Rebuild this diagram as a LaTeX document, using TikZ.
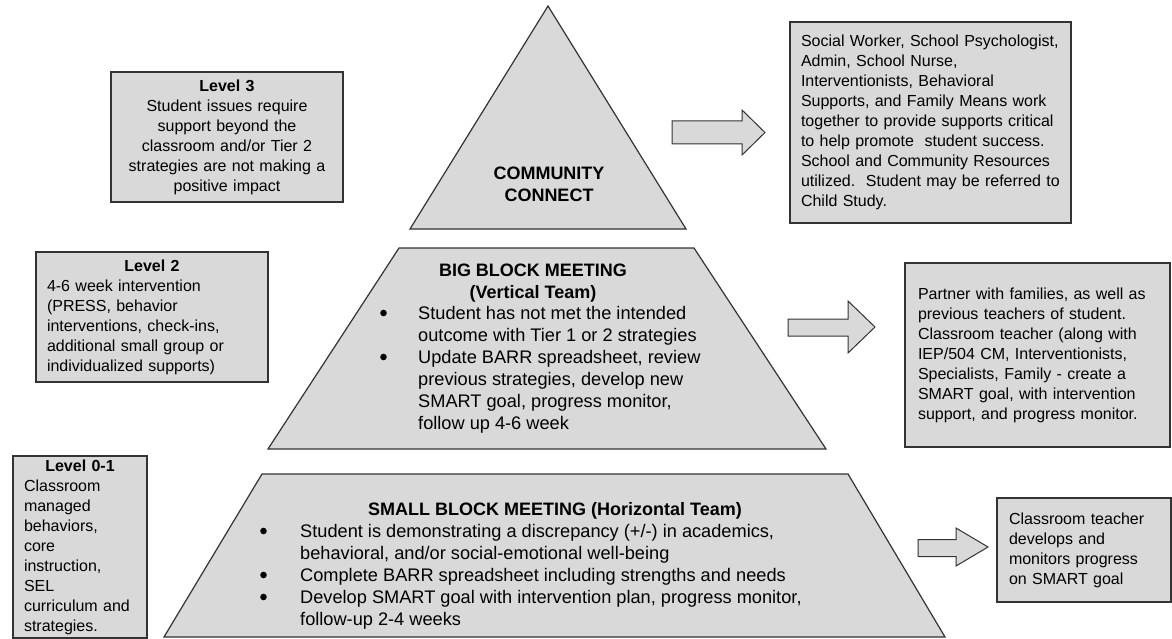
\documentclass[tikz,border=0pt]{standalone}
\usepackage{fontspec}
\setmainfont{Liberation Sans}
\definecolor{fillgray}{HTML}{D9D9D9}
\definecolor{edgegray}{HTML}{333333}
\begin{document}
\begin{tikzpicture}[x=1pt,y=-1pt,
  shapeline/.style={draw=edgegray, fill=fillgray, line width=1.2pt, line join=miter},
  infobox/.style={shapeline, rectangle, inner sep=0pt, inner xsep=11pt, font=\fontsize{16}{20}\selectfont},
  pyrtext/.style={inner sep=0pt, font=\fontsize{18.2}{22}\selectfont},
  pyrhead/.style={inner sep=0pt, align=center, font=\fontsize{18}{22}\selectfont\bfseries},
  bulletdot/.style={fill=black}
]
\useasboundingbox (0,0) rectangle (1172,639);

% pyramid tiers
\draw[shapeline] (548,6) -- (686,229) -- (410,229) -- cycle;
\draw[shapeline] (399,248) -- (694,248) -- (826,449) -- (268,449) -- cycle;
\draw[shapeline] (262,474) -- (848,474) -- (945,637) -- (164,637) -- cycle;

% tier texts
\node[pyrhead] (cc) at (549,184) {COMMUNITY\\CONNECT};
\node[pyrhead] (bbh) at (533,283) {BIG BLOCK MEETING\\(Vertical Team)};
\node[pyrtext, align=left, anchor=north west] (bbl) at (379,306) {%
\hspace*{39pt}Student has not met the intended\\
\hspace*{39pt}outcome with Tier 1 or 2 strategies\\
\hspace*{39pt}Update BARR spreadsheet, review\\
\hspace*{39pt}previous strategies, develop new\\
\hspace*{39pt}SMART goal, progress monitor,\\
\hspace*{39pt}follow up 4-6 week};
\fill[bulletdot] (bbl.north west) ++(4.5,7) circle (3.3);
\fill[bulletdot] (bbl.north west) ++(4.5,51) circle (3.3);

\node[pyrhead] (sbh) at (555,511) {SMALL BLOCK MEETING (Horizontal Team)};
\node[pyrtext, align=left, anchor=north west] (sbl) at (259,524) {%
\hspace*{41pt}Student is demonstrating a discrepancy (+/-) in academics,\\
\hspace*{41pt}behavioral, and/or social-emotional well-being\\
\hspace*{41pt}Complete BARR spreadsheet including strengths and needs\\
\hspace*{41pt}Develop SMART goal with intervention plan, progress monitor,\\
\hspace*{41pt}follow-up 2-4 weeks};
\fill[bulletdot] (sbl.north west) ++(4.5,7) circle (3.3);
\fill[bulletdot] (sbl.north west) ++(4.5,51) circle (3.3);
\fill[bulletdot] (sbl.north west) ++(4.5,73) circle (3.3);

% level boxes (left)
\node[infobox, text width=210pt, align=center, minimum height=130pt] (l3) at (227,137)
 {\textbf{Level 3}\\Student issues require\\support beyond the\\classroom and/or Tier 2\\strategies are not making a\\positive impact};
\node[infobox, text width=210pt, minimum height=130pt] (l2) at (152,317)
 {{\centering\textbf{Level 2}\par}\raggedright 4-6 week intervention\\(PRESS, behavior\\interventions, check-ins,\\additional small group or\\individualized supports)};
\node[infobox, text width=112pt, minimum height=182pt] (l01) at (80,547)
 {{\centering\textbf{Level 0-1}\par}\raggedright Classroom\\managed\\behaviors,\\core\\instruction,\\SEL\\curriculum and\\strategies.};

% result boxes (right)
\node[infobox, text width=259pt, align=left, minimum height=201pt] (r3) at (930.5,122.5)
 {Social Worker, School Psychologist,\\Admin, School Nurse,\\Interventionists, Behavioral\\Supports, and Family Means work\\together to provide supports critical\\to help promote\ \ student success.\\School and Community Resources\\utilized.\ \ Student may be referred to\\Child Study.};
\node[infobox, text width=239pt, inner xsep=13pt, align=left, minimum height=184pt] (r2) at (1037.5,355)
 {Partner with families, as well as\\previous teachers of student.\\Classroom teacher (along with\\IEP/504 CM, Interventionists,\\Specialists, Family - create a\\SMART goal, with intervention\\support, and progress monitor.};
\node[infobox, text width=150pt, inner xsep=12pt, align=left, minimum height=104pt] (r1) at (1084,550)
 {Classroom teacher\\develops and\\monitors progress\\on SMART goal};

% block arrows
\draw[shapeline, line width=1pt] (672,121) -- (742,121) -- (742,110) -- (765,132.5) -- (742,155) -- (742,144) -- (672,144) -- cycle;
\draw[shapeline, line width=1pt] (788,319) -- (848,319) -- (848,301) -- (875,327) -- (848,353) -- (848,336) -- (788,336) -- cycle;
\draw[shapeline, line width=1pt] (918,539.5) -- (956,539.5) -- (956,528) -- (988,547) -- (956,566) -- (956,556.5) -- (918,556.5) -- cycle;
\end{tikzpicture}
\end{document}
